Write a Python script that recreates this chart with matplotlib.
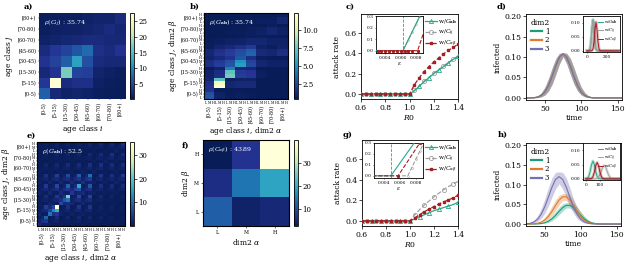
import numpy as np
import matplotlib
matplotlib.use('Agg')
import matplotlib.pyplot as plt
from matplotlib.lines import Line2D

plt.rcParams['font.family'] = ['DejaVu Serif']
plt.rcParams['mathtext.fontset'] = 'dejavuserif'
plt.rcParams['font.size'] = 5.5
plt.rcParams['axes.linewidth'] = 0.6

# ---------------- data ----------------
ages = ['[0-5)', '[5-15)', '[15-30)', '[30-45)', '[45-60)', '[60-70)', '[70-80)', '[80+)']
dim2_levels = ['L', 'M', 'H']

# age contact matrix (rows: age class j from [0-5) upward, cols: age class i)
C_ij = np.array([
    [7.0, 2.0, 1.2, 1.5, 1.2, 0.8, 0.6, 0.5],
    [4.0, 27.0, 2.5, 3.0, 3.0, 1.0, 0.8, 0.6],
    [2.0, 3.5, 17.0, 5.0, 4.5, 1.5, 1.0, 0.8],
    [3.5, 5.0, 7.0, 12.0, 6.0, 2.5, 2.0, 2.0],
    [2.5, 4.0, 5.0, 6.5, 8.0, 3.0, 2.5, 3.5],
    [1.2, 1.5, 1.8, 2.0, 2.5, 2.5, 2.0, 2.0],
    [0.8, 1.0, 1.2, 1.2, 1.5, 1.8, 2.5, 1.8],
    [0.6, 0.8, 0.8, 0.8, 1.2, 1.5, 1.5, 2.5],
])
# dim2 contact matrix (rows: beta L,M,H ; cols: alpha L,M,H)
C_ab = np.array([
    [12.0, 4.0, 5.0],
    [6.0, 14.0, 19.0],
    [2.6, 7.0, 40.0],
])
# share of contacts by dim2 class (L, M, H) used for separable matrix
w_dim2 = np.array([0.45, 0.42, 0.26])

rho_labels = {'a': '35.74', 'b': '35.74', 'e': '52.5', 'f': '43.89'}

R0 = [0.60, 0.64, 0.68, 0.72, 0.76, 0.80, 0.84, 0.88, 0.92, 0.96, 1.00,
      1.04, 1.08, 1.12, 1.16, 1.20, 1.24, 1.28, 1.32, 1.36, 1.40]
c_Gab = [0, 0, 0, 0, 0, 0, 0, 0, 0, 0, 0,
         0.030, 0.075, 0.120, 0.160, 0.200, 0.235, 0.270, 0.305, 0.340, 0.370]
c_Cij = [0, 0, 0, 0, 0, 0, 0, 0, 0, 0, 0,
         0.035, 0.080, 0.125, 0.165, 0.205, 0.240, 0.275, 0.310, 0.345, 0.375]
c_Cab = [0, 0, 0, 0, 0, 0, 0, 0, 0, 0, 0,
         0.090, 0.160, 0.220, 0.270, 0.315, 0.355, 0.395, 0.430, 0.460, 0.490]
g_Gab = [0, 0, 0, 0, 0, 0, 0, 0, 0, 0, 0,
         0.020, 0.040, 0.060, 0.080, 0.100, 0.115, 0.130, 0.145, 0.160, 0.180]
g_Cij = [0, 0, 0, 0, 0, 0, 0, 0, 0, 0, 0,
         0.060, 0.110, 0.155, 0.195, 0.235, 0.270, 0.305, 0.335, 0.360, 0.385]
g_Cab = [0, 0, 0, 0, 0, 0, 0, 0, 0, 0, 0,
         0.030, 0.060, 0.090, 0.115, 0.140, 0.165, 0.185, 0.205, 0.225, 0.250]

# insets: attack rate vs epsilon
c_in_Gab_x = [0.0026, 0.0063, 0.0090]
c_in_Gab_y = [0.0, 0.0, 0.37]
c_in_Cij_x = [0.0026, 0.0063, 0.0070, 0.0075, 0.0080, 0.0085, 0.0090]
c_in_Cij_y = [0.0, 0.0, 0.095, 0.164, 0.230, 0.300, 0.370]
c_in_Cab_x = [0.0030, 0.0035, 0.0040, 0.0045, 0.0050, 0.0055, 0.0060, 0.0065, 0.0070, 0.0075, 0.0082, 0.0090]
c_in_Cab_y = [0, 0, 0, 0, 0, 0, 0, 0, 0, 0, 0, 0.16]
c_in_thr = 0.0063
g_in_Gab_x = [0.0026, 0.0049, 0.0078, 0.0092]
g_in_Gab_y = [0.0, 0.0, 0.30, 0.45]
g_in_Cij_x = [0.0026, 0.0070, 0.0075, 0.0080, 0.0085, 0.0090, 0.0095]
g_in_Cij_y = [0.0, 0.0, 0.075, 0.150, 0.225, 0.300, 0.375]
g_in_Cab_x = [0.0026, 0.0058, 0.0085, 0.0092]
g_in_Cab_y = [0.0, 0.0, 0.30, 0.38]
g_in_thr = 0.0049

# infected vs time
t = [20, 25, 30, 35, 40, 45, 50, 55, 60, 65, 70, 75, 80, 85, 90, 95, 100,
     105, 110, 115, 120, 125, 130, 135, 140, 145, 150, 155, 160]
d_1 = [0, 0, 0.0002, 0.0006, 0.0021, 0.0061, 0.0146, 0.0300, 0.0526, 0.0784, 0.0997, 0.1080,
       0.0997, 0.0784, 0.0526, 0.0300, 0.0146, 0.0061, 0.0021, 0.0006, 0.0002, 0, 0, 0, 0, 0, 0, 0, 0]
d_2 = [0, 0, 0.0002, 0.0006, 0.0020, 0.0058, 0.0140, 0.0291, 0.0515, 0.0775, 0.0990, 0.1075,
       0.1000, 0.0792, 0.0535, 0.0308, 0.0151, 0.0064, 0.0022, 0.0007, 0.0002, 0, 0, 0, 0, 0, 0, 0, 0]
d_3 = [0, 0, 0.0002, 0.0007, 0.0022, 0.0064, 0.0152, 0.0310, 0.0538, 0.0795, 0.1003, 0.1078,
       0.0990, 0.0772, 0.0515, 0.0292, 0.0141, 0.0058, 0.0020, 0.0006, 0.0002, 0, 0, 0, 0, 0, 0, 0, 0]
d_lo = [0, 0, 0, 0.0002, 0.0008, 0.0027, 0.0073, 0.0171, 0.0340, 0.0577, 0.0834, 0.1010,
        0.0834, 0.0577, 0.0340, 0.0171, 0.0073, 0.0027, 0.0008, 0.0002, 0, 0, 0, 0, 0, 0, 0, 0, 0]
d_hi = [0, 0.0001, 0.0005, 0.0017, 0.0050, 0.0124, 0.0263, 0.0476, 0.0733, 0.0963, 0.1090, 0.1100,
        0.1090, 0.0963, 0.0733, 0.0476, 0.0263, 0.0124, 0.0050, 0.0017, 0.0005, 0.0001, 0, 0, 0, 0, 0, 0, 0]

h_1 = [0, 0, 0.0001, 0.0001, 0.0005, 0.0013, 0.0032, 0.0070, 0.0132, 0.0219, 0.0322, 0.0416,
       0.0472, 0.0472, 0.0416, 0.0322, 0.0219, 0.0132, 0.0070, 0.0032, 0.0013, 0.0005, 0.0001, 0.0001, 0, 0, 0, 0, 0]
h_1_lo = [0, 0, 0, 0.0001, 0.0002, 0.0007, 0.0018, 0.0041, 0.0083, 0.0150, 0.0237, 0.0330,
          0.0405, 0.0405, 0.0330, 0.0237, 0.0150, 0.0083, 0.0041, 0.0018, 0.0007, 0.0002, 0.0001, 0, 0, 0, 0, 0, 0]
h_1_hi = [0, 0, 0.0001, 0.0004, 0.0010, 0.0026, 0.0059, 0.0117, 0.0204, 0.0316, 0.0428, 0.0512,
          0.0539, 0.0539, 0.0512, 0.0428, 0.0316, 0.0204, 0.0117, 0.0059, 0.0026, 0.0010, 0.0004, 0.0001, 0, 0, 0, 0, 0]
h_2 = [0, 0.0001, 0.0002, 0.0007, 0.0019, 0.0047, 0.0102, 0.0193, 0.0320, 0.0470, 0.0606, 0.0689,
       0.0689, 0.0606, 0.0470, 0.0320, 0.0193, 0.0102, 0.0047, 0.0019, 0.0007, 0.0002, 0.0001, 0, 0, 0, 0, 0, 0]
h_2_lo = [0, 0, 0.0001, 0.0003, 0.0010, 0.0026, 0.0060, 0.0122, 0.0221, 0.0349, 0.0486, 0.0596,
          0.0596, 0.0486, 0.0349, 0.0221, 0.0122, 0.0060, 0.0026, 0.0010, 0.0003, 0.0001, 0, 0, 0, 0, 0, 0, 0]
h_2_hi = [0, 0.0001, 0.0005, 0.0014, 0.0037, 0.0084, 0.0167, 0.0292, 0.0451, 0.0612, 0.0731, 0.0770,
          0.0770, 0.0731, 0.0612, 0.0451, 0.0292, 0.0167, 0.0084, 0.0037, 0.0014, 0.0005, 0.0001, 0, 0, 0, 0, 0, 0]
h_3 = [0.0002, 0.0007, 0.0020, 0.0053, 0.0121, 0.0244, 0.0433, 0.0676, 0.0930, 0.1126, 0.1200,
       0.1126, 0.0930, 0.0676, 0.0433, 0.0244, 0.0121, 0.0053, 0.0020, 0.0007, 0.0002, 0, 0, 0, 0, 0, 0, 0, 0]
h_3_lo = [0.0001, 0.0003, 0.0010, 0.0026, 0.0065, 0.0141, 0.0271, 0.0457, 0.0679, 0.0887, 0.1020,
          0.0887, 0.0679, 0.0457, 0.0271, 0.0141, 0.0065, 0.0026, 0.0010, 0.0003, 0.0001, 0, 0, 0, 0, 0, 0, 0, 0]
h_3_hi = [0.0004, 0.0014, 0.0041, 0.0097, 0.0206, 0.0384, 0.0631, 0.0914, 0.1165, 0.1307, 0.1320,
          0.1307, 0.1165, 0.0914, 0.0631, 0.0384, 0.0206, 0.0097, 0.0041, 0.0014, 0.0004, 0, 0, 0, 0, 0, 0, 0, 0]

# insets of d / h: total infected per model
t_in_d = [0, 10, 20, 30, 40, 50, 60, 70, 80, 90, 100, 110, 120, 130, 140, 150, 160,
          170, 180, 190, 200, 210, 220, 230, 240, 250, 260, 270, 280, 290, 300, 310, 320]
d_in_Gab = [0, 0, 0.0007, 0.0063, 0.0311, 0.0813, 0.1120, 0.0813, 0.0311, 0.0063, 0.0007,
            0, 0, 0, 0, 0, 0, 0, 0, 0, 0, 0, 0, 0, 0, 0, 0, 0, 0, 0, 0, 0, 0]
d_in_Cij = [0, 0, 0.0006, 0.0060, 0.0300, 0.0800, 0.1100, 0.0820, 0.0320, 0.0065, 0.0008,
            0, 0, 0, 0, 0, 0, 0, 0, 0, 0, 0, 0, 0, 0, 0, 0, 0, 0, 0, 0, 0, 0]
d_in_Cab = [0, 0, 0, 0, 0, 0.0009, 0.0073, 0.0317, 0.0763, 0.1030, 0.0763, 0.0317, 0.0073, 0.0009,
            0, 0, 0, 0, 0, 0, 0, 0, 0, 0, 0, 0, 0, 0, 0, 0, 0, 0, 0]
t_in_h = [0, 10, 20, 30, 40, 50, 60, 70, 80, 90, 100, 110, 120, 130, 140, 150, 160,
          170, 180, 190, 200, 210, 220, 230, 240]
h_in_Gab = [0.0002, 0.0018, 0.0084, 0.0255, 0.0497, 0.0620, 0.0497, 0.0255, 0.0084, 0.0018, 0.0002,
            0, 0, 0, 0, 0, 0, 0, 0, 0, 0, 0, 0, 0, 0]
h_in_Cij = [0, 0, 0, 0, 0, 0, 0.0001, 0.0005, 0.0021, 0.0064, 0.0153, 0.0285, 0.0415, 0.0470,
            0.0415, 0.0285, 0.0153, 0.0064, 0.0021, 0.0005, 0.0001, 0, 0, 0, 0]
h_in_Cab = [0, 0, 0, 0.0002, 0.0016, 0.0077, 0.0234, 0.0457, 0.0570, 0.0457, 0.0234, 0.0077,
            0.0016, 0.0002, 0, 0, 0, 0, 0, 0, 0, 0, 0, 0, 0]

# ---------------- style ----------------
CMAP = 'YlGnBu_r'
COL_G = '#2aa786'
COL_C = '#a0a0a0'
COL_A = '#a41e22'
DIM_COLS = ['#1b9e77', '#e07b2c', '#7570b3']

fig = plt.figure(figsize=(6.28, 2.65), dpi=100)


def px(x0, y0, x1, y1):
    return fig.add_axes([x0 / 628, 1 - y1 / 265, (x1 - x0) / 628, (y1 - y0) / 265])


def heat(ax, cax, data, vmin, vmax, ticks, ticklabels=None, frame=True):
    im = ax.imshow(data, origin='lower', cmap=CMAP, vmin=vmin, vmax=vmax,
                   aspect='auto', interpolation='nearest')
    cb = fig.colorbar(im, cax=cax, ticks=ticks)
    if ticklabels is not None:
        cb.ax.set_yticklabels(ticklabels)
    cb.ax.tick_params(labelsize=5, length=2, width=0.5, pad=1)
    cb.outline.set_linewidth(0.6)
    for s in ax.spines.values():
        s.set_visible(frame)
        s.set_linewidth(0.8)
    return im


def lmh_ticks(ax):
    n = 24
    ax.xaxis.remove_overlapping_locs = False
    ax.yaxis.remove_overlapping_locs = False
    ax.set_xticks(np.arange(n))
    ax.set_xticklabels(dim2_levels * 8)
    ax.set_yticks(np.arange(n))
    ax.set_yticklabels(dim2_levels * 8)
    ax.set_xticks(np.arange(1, n, 3), minor=True)
    ax.set_xticklabels(ages, minor=True)
    ax.set_yticks(np.arange(1, n, 3), minor=True)
    ax.set_yticklabels(ages, minor=True)
    ax.tick_params(which='major', length=1, width=0.3, pad=0.5, labelsize=2.3)
    ax.tick_params(axis='x', which='minor', length=0, pad=4.5, labelsize=3.5, labelrotation=90)
    ax.tick_params(axis='y', which='minor', length=0, pad=4.0, labelsize=3.5)


def rho_text(ax, lab, val):
    ax.text(0.06, 0.95, lab + ' : ' + val, transform=ax.transAxes, color='white',
            fontsize=4.5, va='top', ha='left')


def panel(x, y, s):
    fig.text(x / 628, 1 - y / 265, s, fontsize=6, fontweight='bold', va='center', ha='left')


# ---- a ----
ax_a = px(39, 13, 126, 99)
cax_a = px(130, 13, 134, 99)
heat(ax_a, cax_a, C_ij, 0.3, 27.5, [5, 10, 15, 20, 25], frame=False)
ax_a.set_xticks(np.arange(8))
ax_a.set_xticklabels(ages)
ax_a.set_yticks(np.arange(8))
ax_a.set_yticklabels(ages)
ax_a.tick_params(length=1, width=0.3, pad=1, labelsize=3.5)
ax_a.tick_params(axis='x', labelrotation=90)
ax_a.set_xlabel('age class $i$', fontsize=5.5, labelpad=2)
ax_a.set_ylabel('age class $j$', fontsize=5.5, labelpad=2)
rho_text(ax_a, r'$\rho(C_{ij})$', rho_labels['a'])

# ---- b ----
G_sep = np.kron(C_ij, np.outer(w_dim2, np.ones(3)))
ax_b = px(204, 13, 288, 99)
cax_b = px(294, 13, 298, 99)
heat(ax_b, cax_b, G_sep, 0.44, 12.3, [2.5, 5.0, 7.5, 10.0], ['2.5', '5.0', '7.5', '10.0'])
lmh_ticks(ax_b)
ax_b.set_xlabel(r'age class $i$, dim2 $\alpha$', fontsize=5.5, labelpad=1)
ax_b.set_ylabel(r'age class $j$, dim2 $\beta$', fontsize=5.5, labelpad=1)
rho_text(ax_b, r'$\rho(G_{\mathbf{ab}})$', rho_labels['b'])

# ---- e ----
G_full = np.kron(C_ij, C_ab / 30.0)
ax_e = px(37, 142, 125, 226)
cax_e = px(130, 142, 134, 226)
heat(ax_e, cax_e, G_full, 0.0, 35.6, [10, 20, 30])
lmh_ticks(ax_e)
ax_e.set_xlabel(r'age class $i$, dim2 $\alpha$', fontsize=5.5, labelpad=1)
ax_e.set_ylabel(r'age class $j$, dim2 $\beta$', fontsize=5.5, labelpad=1)
rho_text(ax_e, r'$\rho(G_{\mathbf{ab}})$', rho_labels['e'])

# ---- f ----
ax_f = px(203, 140, 289, 226)
cax_f = px(294, 140, 298, 226)
heat(ax_f, cax_f, C_ab, 2.6, 40.0, [10, 20, 30])
ax_f.set_xticks(np.arange(3))
ax_f.set_xticklabels(dim2_levels)
ax_f.set_yticks(np.arange(3))
ax_f.set_yticklabels(dim2_levels)
ax_f.tick_params(length=1.5, width=0.4, pad=1.5, labelsize=3.5)
ax_f.set_xlabel(r'dim2 $\alpha$', fontsize=5.5, labelpad=1)
ax_f.set_ylabel(r'dim2 $\beta$', fontsize=5.5, labelpad=1)
rho_text(ax_f, r'$\rho(C_{\alpha\beta})$', rho_labels['f'])


# ---- c / g ----
def attack(ax, yG, yC, yA):
    lG, = ax.plot(R0, yG, '-', color=COL_G, lw=0.9, marker='^', ms=3, mfc='none',
                  mew=0.6, markevery=(0, 2), label=r'w/$G_{\mathbf{ab}}$', zorder=3)
    lC, = ax.plot(R0, yC, '--', color=COL_C, lw=0.9, marker='o', ms=3, mfc='none',
                  mew=0.6, markevery=(1, 2), label=r'w/$C_{ij}$', zorder=2)
    lA, = ax.plot(R0, yA, '--', color=COL_A, lw=0.9, marker='s', ms=2,
                  label=r'w/$C_{\alpha\beta}$', zorder=4)
    ax.set_xlim(0.6, 1.4)
    ax.set_ylim(-0.05, 0.79)
    ax.set_xticks([0.6, 0.8, 1.0, 1.2, 1.4])
    ax.set_yticks([0.0, 0.2, 0.4, 0.6])
    ax.tick_params(length=2, width=0.5, pad=1.5, labelsize=5.5)
    ax.set_xlabel('$R0$', fontsize=5.5, labelpad=1)
    ax.set_ylabel('attack rate', fontsize=5.5, labelpad=2)
    ax.legend(handles=[lG, lC, lA], loc='upper right', bbox_to_anchor=(1.03, 1.0),
              fontsize=4.2, frameon=False, handlelength=2.0, handletextpad=0.3,
              labelspacing=0.2, borderaxespad=0.2)


def attack_inset(ax, gx, gy, cx, cy, ax_, ay, thr):
    ax.plot(gx, gy, '-', color=COL_G, lw=0.8, zorder=3)
    ax.plot(cx, cy, '--', color=COL_C, lw=0.8, marker='o', ms=1.3, mfc='none', mew=0.4, zorder=2)
    ax.plot(ax_, ay, '--', color=COL_A, lw=0.8, marker='s', ms=1.2, zorder=4)
    ax.axvline(thr, color=COL_G, lw=0.6, ls='--')
    ax.set_xlim(0.0028, 0.0089)
    ax.set_ylim(-0.02, 0.3)
    ax.set_xticks([0.004, 0.006, 0.008])
    ax.set_xticklabels(['0.004', '0.006', '0.008'])
    ax.set_yticks([0.0, 0.1, 0.2, 0.3])
    ax.set_yticklabels(['0.0', '0.1', '0.2', '0.3'])
    ax.tick_params(length=1, width=0.4, pad=1, labelsize=3.2)
    ax.set_xlabel(r'$\epsilon$', fontsize=4, labelpad=0.5)


ax_c = px(361, 14, 458, 99)
attack(ax_c, c_Gab, c_Cij, c_Cab)
ax_ci = px(376, 16, 423, 53)
attack_inset(ax_ci, c_in_Gab_x, c_in_Gab_y, c_in_Cij_x, c_in_Cij_y, c_in_Cab_x, c_in_Cab_y, c_in_thr)

ax_g = px(362, 140, 458, 226)
attack(ax_g, g_Gab, g_Cij, g_Cab)
ax_gi = px(374, 143, 423, 178)
attack_inset(ax_gi, g_in_Gab_x, g_in_Gab_y, g_in_Cij_x, g_in_Cij_y, g_in_Cab_x, g_in_Cab_y, g_in_thr)


# ---- d / h ----
def infected(ax, series, bands):
    for i, (y, (lo, hi)) in enumerate(zip(series, bands)):
        ax.fill_between(t, lo, hi, color=DIM_COLS[i], alpha=0.35, lw=0)
        ax.plot(t, y, color=DIM_COLS[i], lw=0.8)
    ax.set_xlim(24, 156)
    ax.set_ylim(-0.005, 0.205)
    ax.set_xticks([50, 100, 150])
    ax.set_yticks([0.0, 0.05, 0.10, 0.15, 0.20])
    ax.set_yticklabels(['0.00', '0.05', '0.10', '0.15', '0.20'])
    ax.tick_params(length=2, width=0.5, pad=1.5, labelsize=5.5)
    ax.set_xlabel('time', fontsize=5.5, labelpad=1)
    ax.set_ylabel('infected', fontsize=5.5, labelpad=2)
    hl = [Line2D([], [], color=c, lw=1.6) for c in DIM_COLS]
    leg = ax.legend(hl, ['1', '2', '3'], title='dim2', loc='upper left', fontsize=5,
                    title_fontsize=5.5, frameon=False, handlelength=1.6, handletextpad=0.4,
                    labelspacing=0.1, borderaxespad=0.3)
    leg._legend_box.align = 'left'


def infected_inset(ax, tt, yG, yC, yA, xlim, xticks):
    for y, c, lab in [(yG, COL_G, r'w/$G_{\mathbf{ab}}$'), (yC, COL_C, r'w/$C_{ij}$'),
                      (yA, COL_A, r'w/$C_{\alpha\beta}$')]:
        ax.plot(tt, y, color=c, lw=2.2, alpha=0.3)
        ax.plot(tt, y, color=c, lw=0.7, label=lab)
    ax.set_xlim(*xlim)
    ax.set_ylim(-0.004, 0.125)
    ax.set_xticks(xticks)
    ax.set_yticks([0.0, 0.05, 0.10])
    ax.set_yticklabels(['0.00', '0.05', '0.10'])
    ax.tick_params(length=1, width=0.4, pad=1, labelsize=3.2)
    ax.legend(loc='upper right', fontsize=2.8, frameon=False, handlelength=1.4,
              handletextpad=0.3, labelspacing=0.05, borderaxespad=0.2)


ax_d = px(526, 14, 622, 100)
infected(ax_d, [d_1, d_2, d_3], [(d_lo, d_hi), (d_lo, d_hi), (d_lo, d_hi)])
ax_di = px(583, 16, 620, 52)
infected_inset(ax_di, t_in_d, d_in_Gab, d_in_Cij, d_in_Cab, (-40, 330), [0, 200])

ax_h = px(526, 143, 621, 226)
infected(ax_h, [h_1, h_2, h_3], [(h_1_lo, h_1_hi), (h_2_lo, h_2_hi), (h_3_lo, h_3_hi)])
ax_hi = px(583, 143, 620, 180)
infected_inset(ax_hi, t_in_h, h_in_Gab, h_in_Cij, h_in_Cab, (-21, 243), [0, 100])

# panel labels
panel(24, 7, 'a)')
panel(190, 7, 'b)')
panel(346, 7, 'c)')
panel(497, 7, 'd)')
panel(27, 136, 'e)')
panel(182, 146, 'f)')
panel(343, 135, 'g)')
panel(498, 135, 'h)')

fig.savefig('out.png', dpi=100)
